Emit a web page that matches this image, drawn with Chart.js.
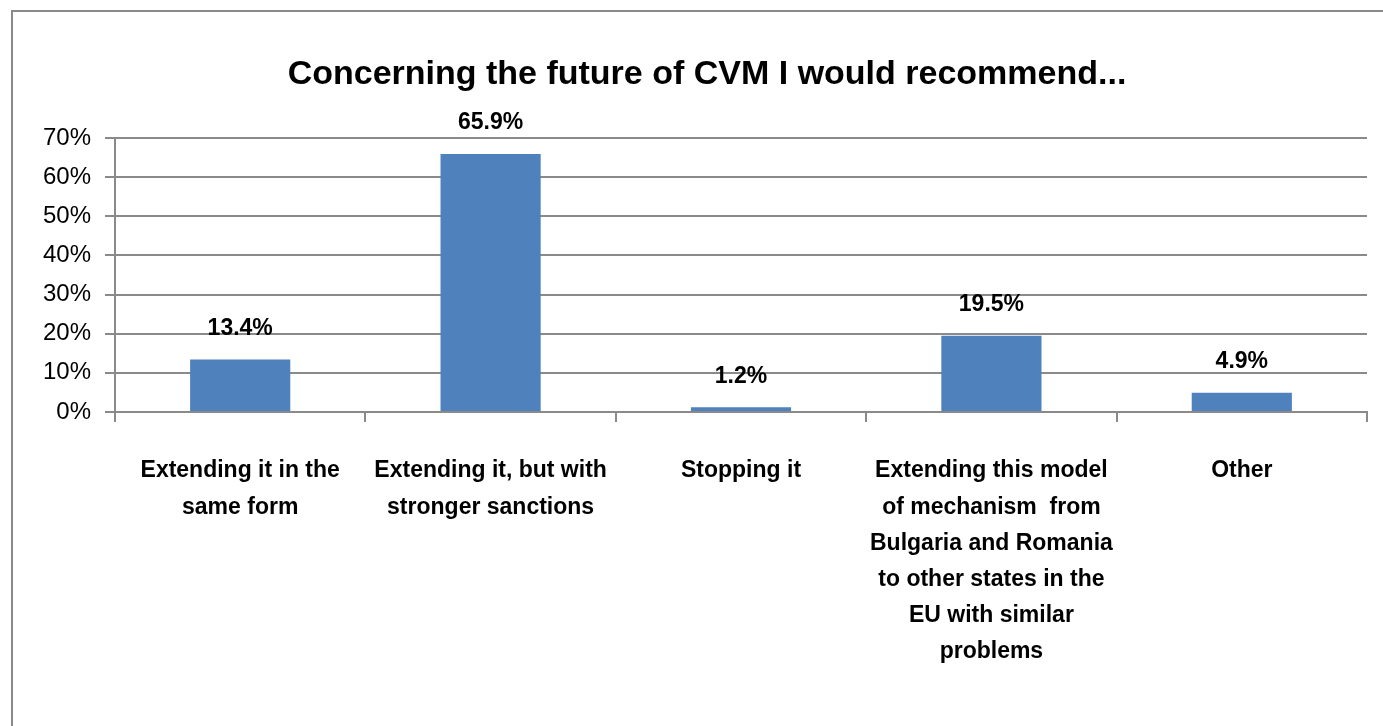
<!DOCTYPE html>
<html>
<head>
<meta charset="utf-8">
<script src="https://cdn.jsdelivr.net/npm/chart.js@4"></script>
<style>
  html, body { margin: 0; padding: 0; background: #fff; overflow: hidden; }
  #frame { position: absolute; left: 11px; top: 10px; width: 1400px; height: 800px;
           border-left: 2px solid #8a8a8a; border-top: 2px solid #8a8a8a; }
  #wrap { position: absolute; left: 0; top: 0; width: 1383px; height: 726px; }
</style>
</head>
<body>
<div id="frame"></div>
<div id="wrap"><canvas id="cvmChart" width="1383" height="726"></canvas></div>
<script>
// Data
var categories = [
    ['Extending it in the', 'same form'],
    ['Extending it, but with', 'stronger sanctions'],
    ['Stopping it'],
    ['Extending this model', 'of mechanism  from', 'Bulgaria and Romania', 'to other states in the', 'EU with similar', 'problems'],
    ['Other']
];
var percentValues = [13.4, 65.9, 1.2, 19.5, 4.9];
var yTicks = [0, 10, 20, 30, 40, 50, 60, 70];
var chartTitle = 'Concerning the future of CVM I would recommend...';

var fontFamily = '"Liberation Sans Narrow", "Arial Narrow", "Liberation Sans", sans-serif';
var gridColor = '#8a8a8a';

// Labels above the bars + title (title sits a bit right of the canvas centre, like the original)
var barLabels = {
    id: 'barLabels',
    afterDatasetsDraw: function (chart) {
        var c = chart.ctx;
        var meta = chart.getDatasetMeta(0);
        c.save();
        c.fillStyle = '#000';
        c.textAlign = 'center';
        c.textBaseline = 'middle';
        c.font = 'bold 23px ' + fontFamily;
        meta.data.forEach(function (bar, i) {
            c.fillText(percentValues[i].toFixed(1) + '%', bar.x, bar.y - 31);
        });
        c.font = 'bold 34px ' + fontFamily;
        c.fillText(chartTitle, 707, 75);
        c.restore();
    }
};

var ctx = document.getElementById('cvmChart').getContext('2d');
var myChart = new Chart(ctx, {
    type: 'bar',
    data: {
        labels: categories,
        datasets: [{
            data: percentValues,
            backgroundColor: '#4f81bd',
            borderWidth: 0,
            categoryPercentage: 1,
            barPercentage: 0.4
        }]
    },
    options: {
        responsive: false,
        animation: false,
        layout: { padding: { left: 0, right: 16, top: 138, bottom: 0 } },
        plugins: {
            legend: { display: false },
            tooltip: { enabled: false },
            title: { display: false }
        },
        scales: {
            x: {
                grid: { offset: true, drawOnChartArea: false, color: gridColor, lineWidth: 2, tickLength: 10 },
                border: { color: gridColor, width: 2 },
                ticks: {
                    color: '#000',
                    font: { family: fontFamily, size: 23, weight: 'bold', lineHeight: 1.57 },
                    padding: 31,
                    maxRotation: 0,
                    autoSkip: false
                },
                afterFit: function (scale) { scale.height = 726 - 412; }
            },
            y: {
                min: 0,
                max: 70,
                afterBuildTicks: function (scale) {
                    scale.ticks = yTicks.map(function (v) { return { value: v }; });
                },
                grid: { color: gridColor, lineWidth: 2, tickLength: 10 },
                border: { color: gridColor, width: 2 },
                ticks: {
                    color: '#000',
                    font: { family: fontFamily, size: 24 },
                    padding: 14,
                    callback: function (v) { return v + '%'; }
                },
                afterFit: function (scale) { scale.width = 115; }
            }
        }
    },
    plugins: [barLabels]
});
</script>
</body>
</html>
